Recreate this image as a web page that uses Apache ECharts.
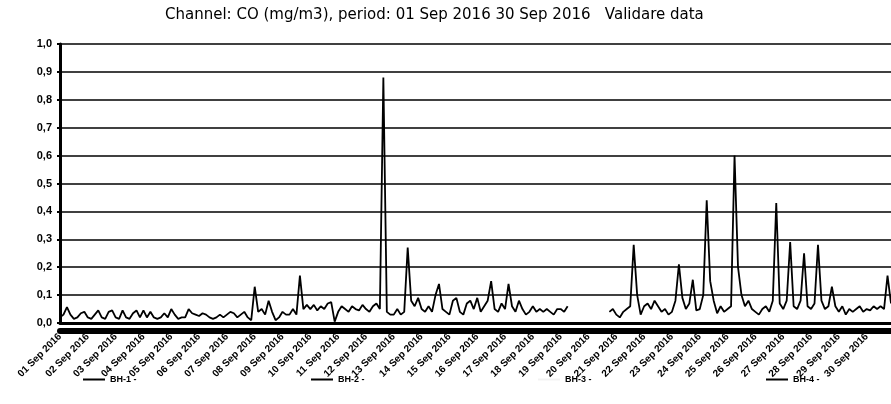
<!DOCTYPE html>
<html>
<head>
<meta charset="utf-8">
<title>CO Sep 2016</title>
<script src="https://cdn.jsdelivr.net/npm/echarts@6/dist/echarts.min.js"></script>
<style>
  html, body { margin: 0; padding: 0; background: #fff; }
  #main { width: 891px; height: 404px; }
</style>
</head>
<body>
<div id="main"></div>
<script>
// one value every 3 hours (8 per day), null = no data
var stepsPerDay = 8;
var stepHours = ['00', '03', '06', '09', '12', '15', '18', '21'];

var xLabels = ['01 Sep 2016', '02 Sep 2016', '03 Sep 2016', '04 Sep 2016', '05 Sep 2016', '06 Sep 2016',
  '07 Sep 2016', '08 Sep 2016', '09 Sep 2016', '10 Sep 2016', '11 Sep 2016', '12 Sep 2016',
  '13 Sep 2016', '14 Sep 2016', '15 Sep 2016', '16 Sep 2016', '17 Sep 2016', '18 Sep 2016',
  '19 Sep 2016', '20 Sep 2016', '21 Sep 2016', '22 Sep 2016', '23 Sep 2016', '24 Sep 2016',
  '25 Sep 2016', '26 Sep 2016', '27 Sep 2016', '28 Sep 2016', '29 Sep 2016', '30 Sep 2016'];

var yLabels = ['0,0', '0,1', '0,2', '0,3', '0,4', '0,5', '0,6', '0,7', '0,8', '0,9', '1,0'];

var seriesNames = ['BH-1', 'BH-2', 'BH-3', 'BH-4'];

var bh1 = [
  0.02, 0.03, 0.057, 0.03, 0.015, 0.02, 0.035, 0.04,     // 01
  0.02, 0.015, 0.03, 0.045, 0.02, 0.015, 0.04, 0.045,    // 02
  0.02, 0.015, 0.045, 0.02, 0.015, 0.035, 0.045, 0.02,   // 03
  0.045, 0.02, 0.04, 0.02, 0.015, 0.02, 0.035, 0.02,     // 04
  0.05, 0.03, 0.015, 0.02, 0.02, 0.05, 0.035, 0.03,      // 05
  0.025, 0.035, 0.03, 0.02, 0.015, 0.02, 0.03, 0.02,     // 06
  0.03, 0.04, 0.035, 0.02, 0.03, 0.04, 0.02, 0.01,       // 07
  0.13, 0.04, 0.05, 0.03, 0.08, 0.04, 0.01, 0.02,        // 08
  0.04, 0.03, 0.03, 0.05, 0.03, 0.17, 0.05, 0.065,       // 09
  0.05, 0.065, 0.045, 0.06, 0.05, 0.07, 0.075, 0.005,    // 10
  0.04, 0.06, 0.05, 0.04, 0.06, 0.05, 0.045, 0.065,      // 11
  0.05, 0.04, 0.06, 0.07, 0.05, 0.88, 0.04, 0.03,        // 12
  0.03, 0.05, 0.03, 0.04, 0.27, 0.08, 0.06, 0.09,        // 13
  0.05, 0.04, 0.06, 0.04, 0.10, 0.14, 0.05, 0.04,        // 14
  0.03, 0.08, 0.09, 0.04, 0.03, 0.07, 0.08, 0.05,        // 15
  0.09, 0.04, 0.06, 0.08, 0.15, 0.05, 0.04, 0.07,        // 16
  0.05, 0.14, 0.06, 0.04, 0.08, 0.05, 0.03, 0.04,        // 17
  0.06, 0.04, 0.05, 0.04, 0.05, 0.04, 0.03, 0.05,        // 18
  0.05, 0.04, 0.06, null, null, null, null, null,        // 19
  null, null, null, null, null, null, 0.04, 0.05,        // 20
  0.03, 0.02, 0.04, 0.05, 0.06, 0.28, 0.10, 0.03,        // 21
  0.06, 0.07, 0.05, 0.08, 0.06, 0.04, 0.05, 0.03,        // 22
  0.04, 0.08, 0.21, 0.09, 0.05, 0.07, 0.155, 0.045,      // 23
  0.05, 0.10, 0.44, 0.15, 0.08, 0.035, 0.06, 0.04,       // 24
  0.05, 0.06, 0.60, 0.20, 0.10, 0.06, 0.08, 0.05,        // 25
  0.04, 0.03, 0.05, 0.06, 0.04, 0.08, 0.43, 0.07,        // 26
  0.05, 0.08, 0.29, 0.06, 0.05, 0.08, 0.25, 0.06,        // 27
  0.05, 0.07, 0.28, 0.08, 0.05, 0.06, 0.13, 0.06,        // 28
  0.04, 0.06, 0.03, 0.05, 0.04, 0.05, 0.06, 0.04,        // 29
  0.05, 0.045, 0.06, 0.05, 0.06, 0.05, 0.17, 0.07        // 30
];
var bh2 = [];
var bh3 = [];
var bh4 = [];

// category per 3-hour step: "01 Sep 2016 00h", "01 Sep 2016 03h", ...
var steps = [];
xLabels.forEach(function (d) {
  stepHours.forEach(function (h) { steps.push(d + ' ' + h + 'h'); });
});

var chart = echarts.init(document.getElementById('main'));

var legendLeft = [78, 306, 533, 761];
var lineColors = ['#000', '#000', '#f2f2f2', '#000'];

var option = {
  animation: false,
  backgroundColor: '#fff',
  title: {
    text: 'Channel: CO (mg/m3), period: 01 Sep 2016 30 Sep 2016   Validare data',
    left: 160,
    top: 3,
    textStyle: { fontFamily: 'DejaVu Sans', fontSize: 15, fontWeight: 'normal', color: '#000' }
  },
  legend: seriesNames.map(function (n, i) {
    return {
      data: [n],
      left: legendLeft[i],
      top: 370,
      icon: 'rect',
      itemWidth: 22,
      itemHeight: 2,
      itemGap: 3,
      formatter: function (name) { return name + ' -'; },
      textStyle: { fontFamily: 'Liberation Sans', fontSize: 9, fontWeight: 'bold', color: '#000' }
    };
  }),
  grid: { left: 60, right: 0, top: 44, bottom: 81 },
  xAxis: [
    {
      type: 'category',
      data: steps,
      boundaryGap: false,
      splitLine: { show: false },
      axisTick: { show: false },
      axisLine: { lineStyle: { color: '#000', width: 3 } },
      axisLabel: {
        rotate: 45,
        margin: 12,
        color: '#000',
        fontFamily: 'Liberation Sans',
        fontSize: 10,
        fontWeight: 'bold',
        interval: function (idx) { return idx % stepsPerDay === 0; },
        formatter: function (v) { return v.slice(0, 11); }
      }
    },
    {
      // the heavy band under the axis
      type: 'category',
      data: steps,
      boundaryGap: false,
      position: 'bottom',
      offset: 8,
      splitLine: { show: false },
      axisTick: { show: false },
      axisLabel: { show: false },
      axisLine: { lineStyle: { color: '#000', width: 6 } }
    }
  ],
  yAxis: {
    type: 'value',
    min: 0,
    max: 1,
    interval: 0.1,
    axisLine: { show: true, lineStyle: { color: '#000', width: 3 } },
    axisTick: { show: true, length: 3, lineStyle: { color: '#000', width: 2 } },
    axisLabel: {
      margin: 8,
      color: '#000',
      fontFamily: 'Liberation Sans',
      fontSize: 11,
      fontWeight: 'bold',
      formatter: function (v) { return yLabels[Math.round(v * 10)]; }
    },
    splitLine: { lineStyle: { color: '#000', width: 1.6 } }
  },
  series: [bh1, bh2, bh3, bh4].map(function (arr, i) {
    return {
      name: seriesNames[i],
      type: 'line',
      xAxisIndex: 0,
      data: arr,
      symbol: 'none',
      connectNulls: false,
      lineStyle: { color: lineColors[i], width: 1.8 },
      itemStyle: { color: lineColors[i] }
    };
  })
};

chart.setOption(option);
</script>
</body>
</html>
